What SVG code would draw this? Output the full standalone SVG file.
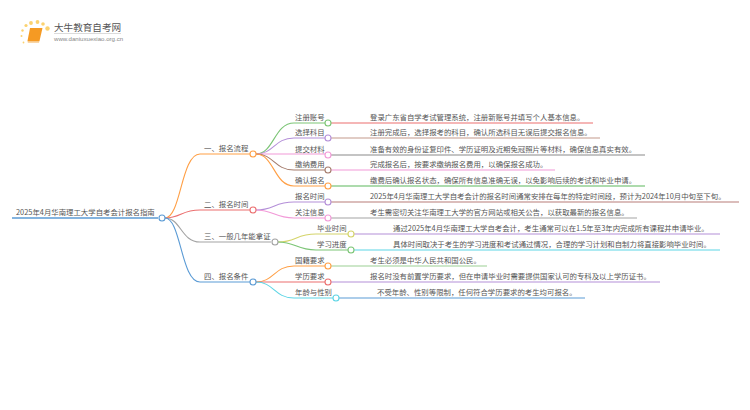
<svg xmlns="http://www.w3.org/2000/svg" width="750" height="410" viewBox="0 0 750 410">
<style>
text{font-family:"Noto Sans CJK SC","Liberation Sans",sans-serif;font-size:7.4px;fill:#555}
.l{fill:none;stroke-width:1.1}
.n{fill:#fff;stroke-width:1.1}
.org{stroke:#FF9F45}.red{stroke:#EB6F6F}.gry{stroke:#A3A3A3}.blu{stroke:#5B9BD5}.grn{stroke:#7CC576}.pur{stroke:#B48FD8}.pnk{stroke:#F29AD8}.brn{stroke:#A57C6C}.cyn{stroke:#5DD5E5}.yel{stroke:#D4D46A}
</style>
<rect width="750" height="410" fill="#fff"/>
<g id="logo">
<g fill="#FBD270"><circle cx="26" cy="25.500" r="1.600"/><circle cx="31" cy="23" r="1.900"/><circle cx="37.500" cy="22" r="1.900"/><circle cx="43" cy="24" r="1.800"/><circle cx="47.500" cy="28.500" r="2.200"/><circle cx="22.500" cy="30.500" r="1.200"/><circle cx="21.500" cy="36" r="1"/><circle cx="23.500" cy="42.500" r="0.900"/></g>
<path d="M30,28 H42.500 L39.500,41 H27.500 Z" fill="#F59A23"/><path d="M27.500,41 H39.500 L39,42.800 H27.800 Z" fill="#F7C98A"/>
<text x="54" y="31" style="font-size:9.600px">大牛教育自考网</text>
<path d="M54,33.500 H121" stroke="#ccc" stroke-width="0.7"/>
<text x="54" y="41" style="font-size:6.100px;fill:#888;font-family:'Liberation Sans',sans-serif">www.daniuxuexiao.org.cn</text>
</g>
<g id="connectors">
<path class="l blu" style="stroke-width:1.300" d="M12,218 H158"/>
<path class="l org" d="M165,218 C181,218 181,154 200,154 H250"/>
<path class="l red" d="M165,218 C181,218 181,210 200,210 H250"/>
<path class="l gry" d="M165,218 C181,218 181,242 200,242 H271"/>
<path class="l blu" d="M165,218 C181,218 181,282 200,282 H250"/>
<path class="l grn" d="M256,154 C274,154 274,123 294,123 H325"/>
<path class="l pur" d="M256,154 C274,154 274,138 294,138 H325"/>
<path class="l pnk" d="M256,154 H325"/>
<path class="l brn" d="M256,154 C274,154 274,170 294,170 H325"/>
<path class="l org" d="M256,154 C274,154 274,186 294,186 H325"/>
<path class="l pur" d="M256,210 C274,210 274,202 294,202 H325"/>
<path class="l pnk" d="M256,210 C274,210 274,218 294,218 H325"/>
<path class="l yel" d="M278,242 C296,242 296,234 316,234 H348"/>
<path class="l grn" d="M278,242 C296,242 296,250 316,250 H348"/>
<path class="l org" d="M256,282 C274,282 274,266 294,266 H325"/>
<path class="l red" d="M256,282 H325"/>
<path class="l cyn" d="M256,282 C274,282 274,298 294,298 H333"/>
<path class="l red" d="M331,123 H593"/>
<path class="l brn" d="M331,138 H600" style="stroke:#C49A8C"/>
<path class="l gry" d="M331,155 H645" style="stroke:#8A8A8A"/>
<path class="l pnk" d="M331,170 H555"/>
<path class="l grn" d="M331,186 H645" style="stroke:#5DB85D"/>
<path class="l brn" d="M331,202 H739" style="stroke:#B87C78"/>
<path class="l gry" d="M331,218 H637"/>
<path class="l pur" d="M354,234 H720"/>
<path class="l cyn" d="M354,250 H720"/>
<path class="l grn" d="M331,266 H487" style="stroke:#9BCF94"/>
<path class="l pur" d="M331,282 H660"/>
<path class="l blu" d="M339,298 H585"/>
</g>
<g id="root"><text x="16" y="215">2025年4月华南理工大学自考会计报名指南</text><circle class="n blu" cx="162" cy="218" r="3"/></g>
<g id="b1"><text x="204" y="151">一、报名流程</text><circle class="n org" cx="253" cy="154" r="3"/></g>
<g id="b2"><text x="204" y="207">二、报名时间</text><circle class="n red" cx="253" cy="210" r="3"/></g>
<g id="b3"><text x="204" y="239">三、一般几年能拿证</text><circle class="n gry" cx="275" cy="242" r="3"/></g>
<g id="b4"><text x="204" y="279">四、报名条件</text><circle class="n blu" cx="253" cy="282" r="3"/></g>
<g id="n1"><text x="295" y="120">注册账号</text><circle class="n grn" cx="328" cy="123" r="3"/><text x="370" y="120">登录广东省自学考试管理系统，注册新账号并填写个人基本信息。</text></g>
<g id="n2"><text x="295" y="135">选择科目</text><circle class="n pur" cx="328" cy="138" r="3"/><text x="370" y="135">注册完成后，选择报考的科目，确认所选科目无误后提交报名信息。</text></g>
<g id="n3"><text x="295" y="152">提交材料</text><circle class="n pnk" cx="328" cy="155" r="3"/><text x="370" y="152">准备有效的身份证复印件、学历证明及近期免冠照片等材料，确保信息真实有效。</text></g>
<g id="n4"><text x="295" y="167">缴纳费用</text><circle class="n brn" cx="328" cy="170" r="3"/><text x="370" y="167">完成报名后，按要求缴纳报名费用，以确保报名成功。</text></g>
<g id="n5"><text x="295" y="183">确认报名</text><circle class="n org" cx="328" cy="186" r="3"/><text x="370" y="183">缴费后确认报名状态，确保所有信息准确无误，以免影响后续的考试和毕业申请。</text></g>
<g id="n6"><text x="295" y="199">报名时间</text><circle class="n pur" cx="328" cy="202" r="3"/><text x="370" y="199">2025年4月华南理工大学自考会计的报名时间通常安排在每年的特定时间段，预计为2024年10月中旬至下旬。</text></g>
<g id="n7"><text x="295" y="215">关注信息</text><circle class="n pnk" cx="328" cy="218" r="3"/><text x="370" y="215">考生需密切关注华南理工大学的官方网站或相关公告，以获取最新的报名信息。</text></g>
<g id="n8"><text x="317" y="231">毕业时间</text><circle class="n yel" cx="351" cy="234" r="3"/><text x="393" y="231">通过2025年4月华南理工大学自考会计，考生通常可以在1.5年至3年内完成所有课程并申请毕业。</text></g>
<g id="n9"><text x="317" y="247">学习进度</text><circle class="n grn" cx="351" cy="250" r="3"/><text x="393" y="247">具体时间取决于考生的学习进度和考试通过情况，合理的学习计划和自制力将直接影响毕业时间。</text></g>
<g id="n10"><text x="295" y="263">国籍要求</text><circle class="n org" cx="328" cy="266" r="3"/><text x="370" y="263">考生必须是中华人民共和国公民。</text></g>
<g id="n11"><text x="295" y="279">学历要求</text><circle class="n red" cx="328" cy="282" r="3"/><text x="370" y="279">报名时没有前置学历要求，但在申请毕业时需要提供国家认可的专科及以上学历证书。</text></g>
<g id="n12"><text x="295" y="295">年龄与性别</text><circle class="n cyn" cx="336" cy="298" r="3"/><text x="377" y="295">不受年龄、性别等限制，任何符合学历要求的考生均可报名。</text></g>
</svg>
